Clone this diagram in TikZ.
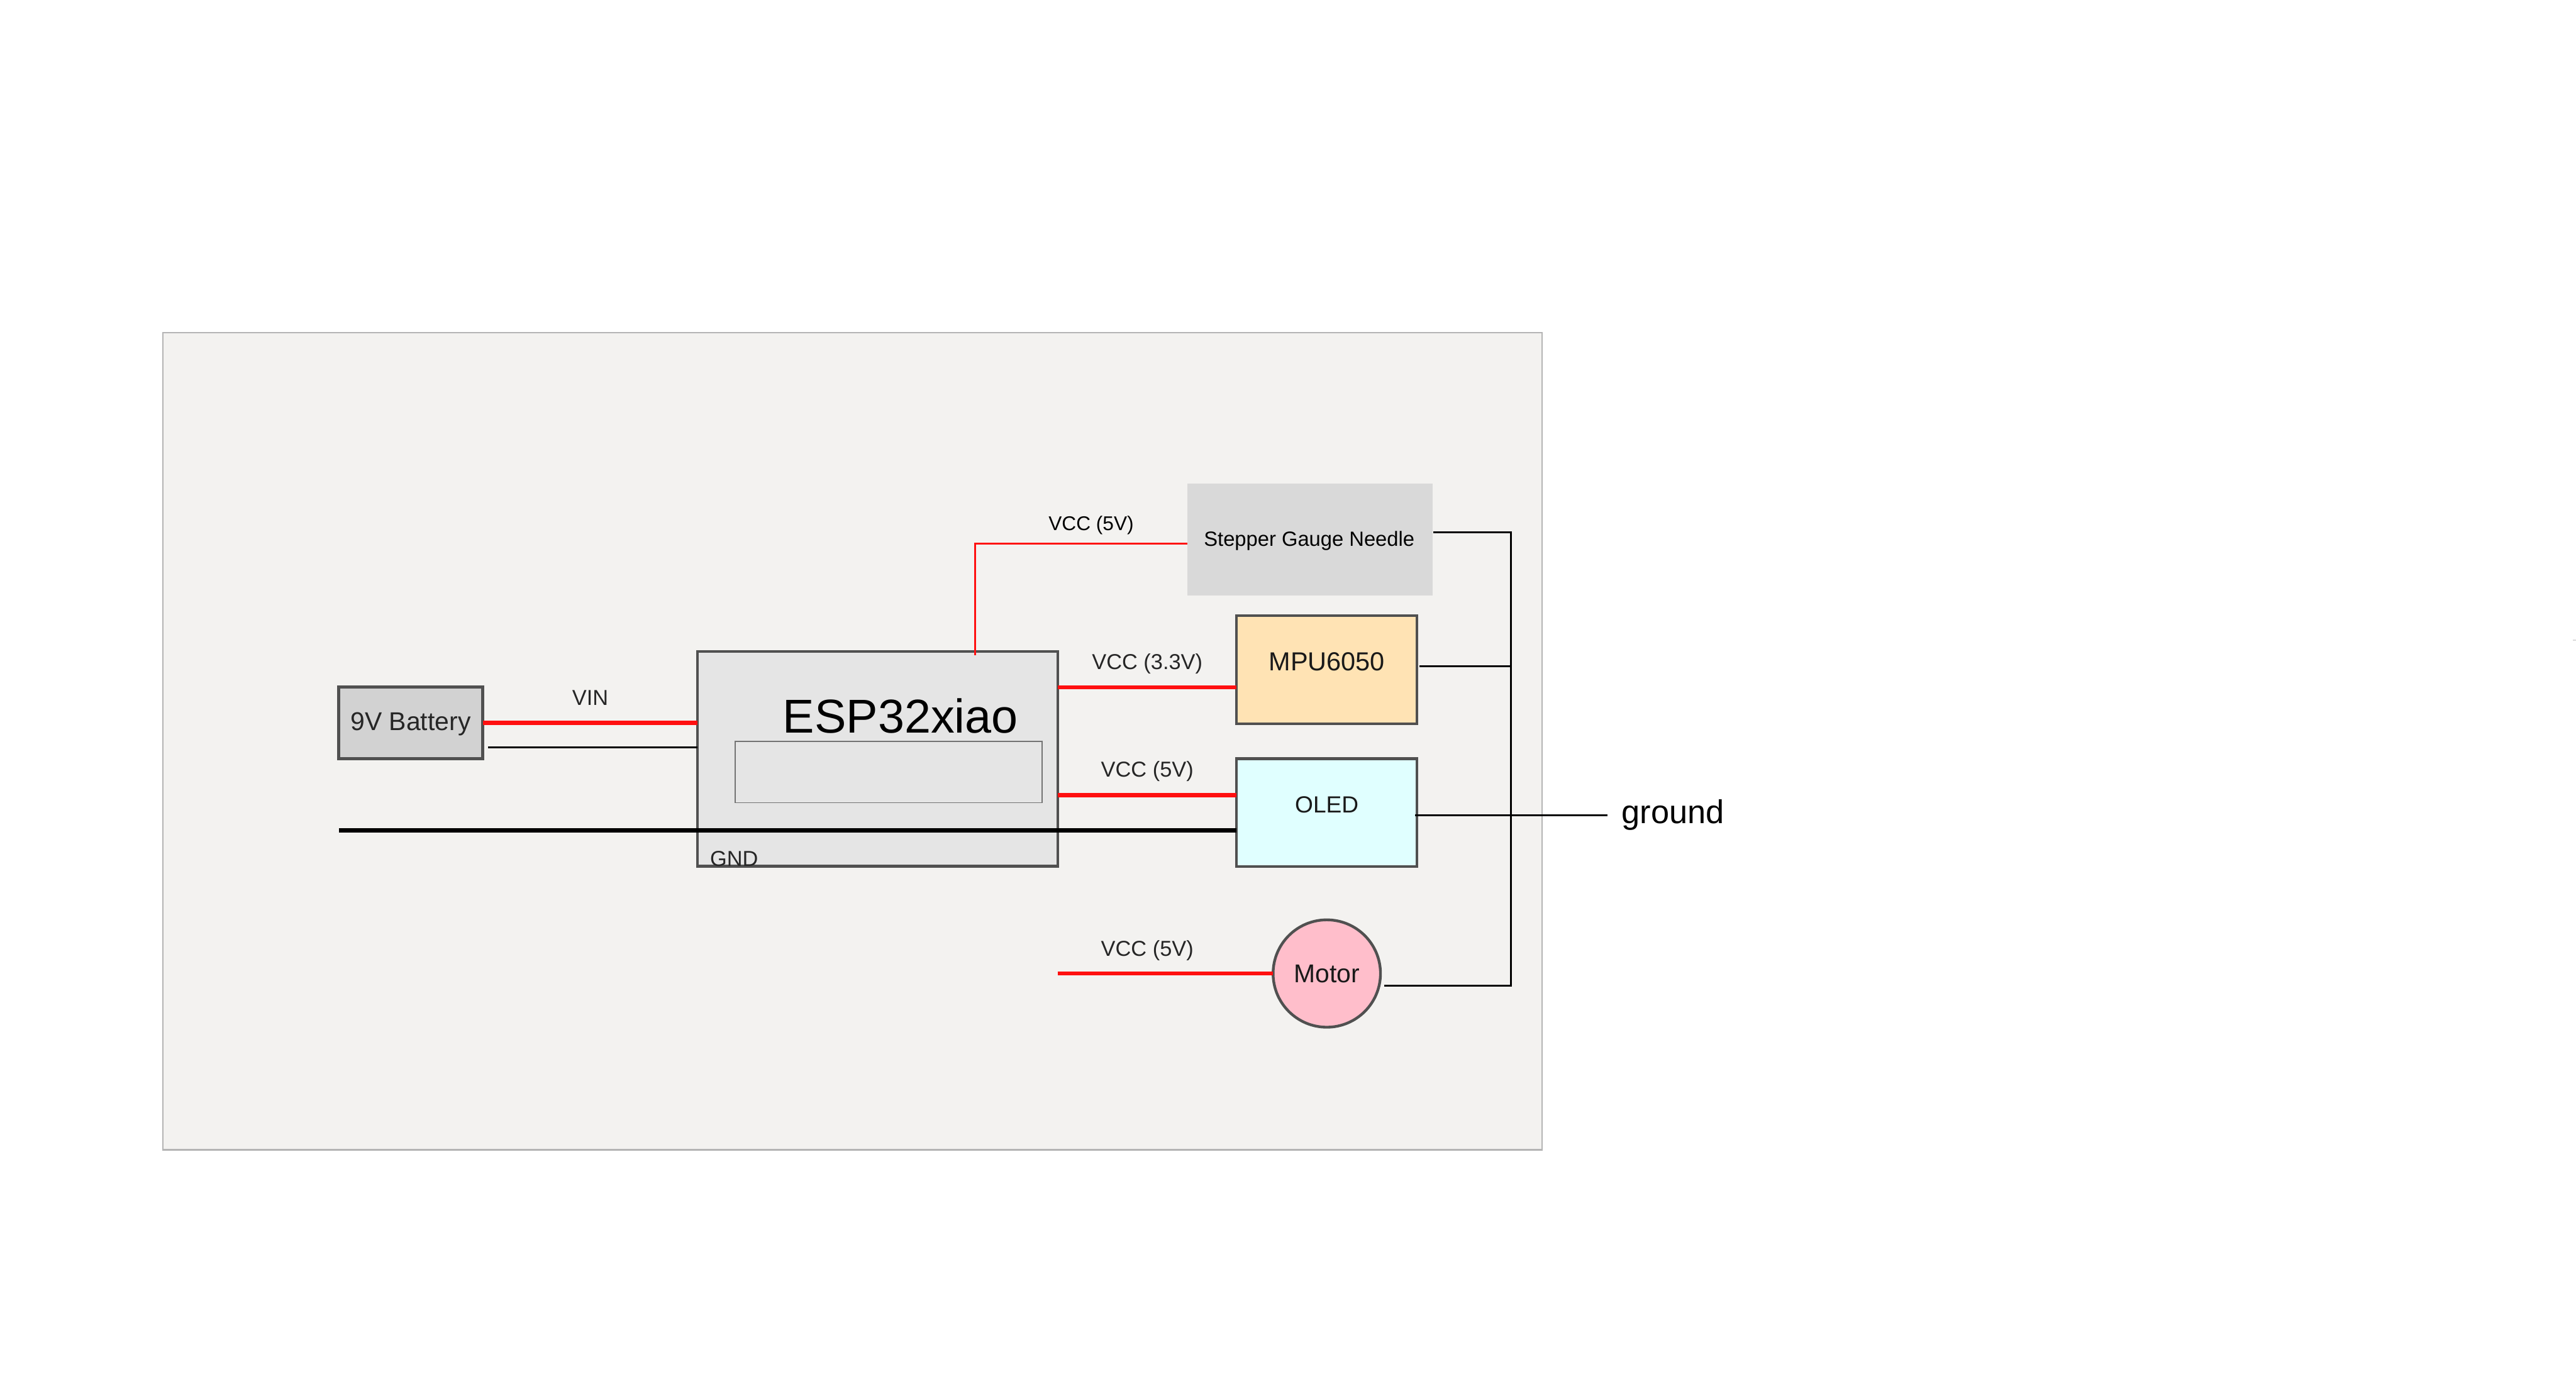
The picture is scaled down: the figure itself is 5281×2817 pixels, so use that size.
\documentclass[tikz,border=0pt]{standalone}
\usepackage{fontspec}
\setmainfont{Liberation Sans}
\usepackage{tikz}
\definecolor{panelbg}{HTML}{F3F2F0}
\definecolor{panelline}{HTML}{B4B4B4}
\definecolor{boxline}{HTML}{505050}
\definecolor{wirered}{HTML}{FF1010}
\definecolor{espbg}{HTML}{E5E5E5}
\definecolor{batterybg}{HTML}{D2D2D2}
\definecolor{stepperbg}{HTML}{D9D9D9}
\definecolor{mpubg}{HTML}{FFE3B4}
\definecolor{oledbg}{HTML}{E0FFFF}
\definecolor{motorbg}{HTML}{FFBECB}

\begin{document}
\begin{tikzpicture}[x=0.01cm,y=-0.01cm]
	\tikzstyle{box}=[draw=boxline,line width=1.6pt,inner sep=0pt,outer sep=0pt];
	\tikzstyle{vcc}=[wirered,line width=2.4pt];
	\tikzstyle{vccthin}=[wirered,line width=1.1pt];
	\tikzstyle{gnd}=[black,line width=1.1pt];
	\tikzstyle{tag}=[inner sep=0pt,text=black!85,font=\fontsize{12.6pt}{14pt}\selectfont];
	\useasboundingbox (0,0) rectangle (5281,2817);
	%% panel
	\node[draw=panelline,line width=.8pt,fill=panelbg,inner sep=0pt,minimum width=28.26cm,minimum height=16.74cm] (panel) at (1748,1520) {};
	\fill[black!15] (5274,1311) rectangle (5281,1314);
	%% parts
	\node[box,fill=batterybg,minimum width=2.95cm,minimum height=1.47cm] (battery) at (842,1482) {};
	\node[box,fill=espbg,minimum width=7.38cm,minimum height=4.40cm] (esp) at (1799,1556) {};
	\node[draw=black!55,line width=.6pt,fill=espbg,inner sep=0pt,minimum width=6.29cm,minimum height=1.25cm] (screen) at (1822,1583) {};
	\node[fill=stepperbg,inner sep=0pt,minimum width=5.03cm,minimum height=2.29cm] (stepper) at (2686,1106) {};
	\node[box,fill=mpubg,minimum width=3.70cm,minimum height=2.22cm] (mpu) at (2720,1373) {};
	\node[box,fill=oledbg,minimum width=3.70cm,minimum height=2.21cm] (oled) at (2720,1666) {};
	\node[box,circle,fill=motorbg,minimum size=2.20cm] (motor) at (2720,1996) {};
	%% part names
	\node[inner sep=0pt,font=\fontsize{27.7pt}{30pt}\selectfont] (esplabel) at (1846,1468) {ESP32xiao};
	\node[tag,font=\fontsize{15pt}{17pt}\selectfont] (batterylabel) at (842,1485) {9V Battery};
	\node[tag,text=black,font=\fontsize{12pt}{14pt}\selectfont] (stepperlabel) at (2684,1109) {Stepper Gauge Needle};
	\node[tag,text=black!90,font=\fontsize{15.2pt}{17pt}\selectfont] (mpulabel) at (2720,1356) {MPU6050};
	\node[tag,text=black!90,font=\fontsize{13.6pt}{16pt}\selectfont] (oledlabel) at (2720,1650) {OLED};
	\node[tag,text=black!90,font=\fontsize{15pt}{17pt}\selectfont] (motorlabel) at (2720,1997) {Motor};
	%% power
	\draw[vcc] (battery.east) -- (battery.east -| esp.west);
	\coordinate (mpuvcc) at (mpu.west |- 0,1409);
	\draw[vcc] (mpuvcc -| esp.east) -- (mpuvcc);
	\coordinate (oledvcc) at (oled.west |- 0,1630);
	\draw[vcc] (oledvcc -| esp.east) -- (oledvcc);
	\draw[vcc] (motor.west -| esp.east) -- (motor.west);
	\coordinate (steppervcc) at (stepper.west |- 0,1115);
	\coordinate (espvcc) at (1999,1343);
	\draw[vccthin] (steppervcc) -| (espvcc);
	%% ground
	\coordinate (batgnd) at (1001,1532);
	\draw[gnd] (batgnd) -- (batgnd -| esp.west);
	\coordinate (busstart) at (695,1703);
	\draw[black,line width=2.6pt] (busstart) -- (busstart -| oled.west);
	\coordinate (rail) at (3097,1091);
	\draw[gnd] (stepper.east |- rail) -- (rail) -- (3097,2021) -- (2838,2021);
	\draw[gnd] (2910,1366) -- (3097,1366);
	\coordinate (groundend) at (3295,1671);
	\draw[gnd] (2901,1671) -- (groundend);
	%% wire labels
	\node[tag,anchor=base] (vinlabel) at (1210,1446) {VIN};
	\node[tag,anchor=base,text=black,font=\fontsize{11.6pt}{14pt}\selectfont] (steppertag) at (2237,1087) {VCC (5V)};
	\node[tag,anchor=base] (mputag) at (2352,1372) {VCC (3.3V)};
	\node[tag,anchor=base] (oledtag) at (2352,1593) {VCC (5V)};
	\node[tag,anchor=base] (motortag) at (2352,1961) {VCC (5V)};
	\node[tag,anchor=base] (gndtag) at (1505,1776) {GND};
	\node[inner sep=0pt,anchor=base west,font=\fontsize{19.2pt}{22pt}\selectfont] (groundlabel) at (3324,1688) {ground};
\end{tikzpicture}
\end{document}
